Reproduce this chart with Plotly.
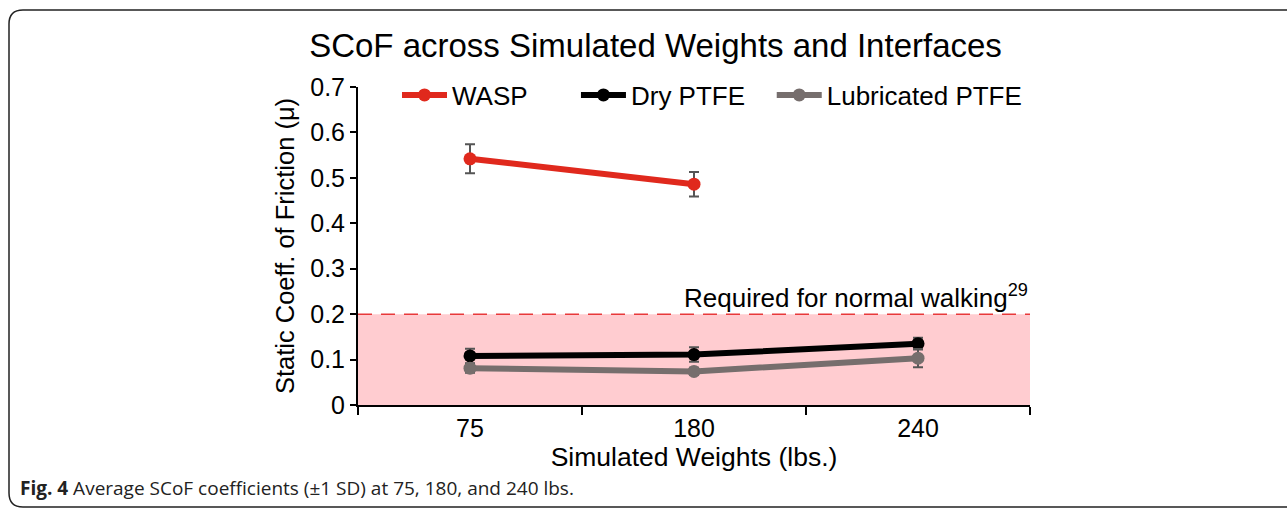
import plotly.graph_objects as go

weights = ["75", "180", "240"]
wasp_mean = [0.542, 0.486, None]
wasp_sd = [0.032, 0.027, None]
dry_mean = [0.108, 0.111, 0.135]
dry_sd = [0.016, 0.016, 0.013]
lub_mean = [0.081, 0.074, 0.103]
lub_sd = [0.010, 0.008, 0.020]
yticks = [0, 0.1, 0.2, 0.3, 0.4, 0.5, 0.6, 0.7]
threshold = 0.2

W, H = 1287, 509
L, R, T, B = 358, 1030, 87, 405
pw, ph = R - L, B - T

def px(x):
    return (x - L) / pw

def py(y):
    return (B - y) / ph

FONT = "Liberation Sans"
NB = "\u00a0"

fig = go.Figure()
series = [
    ("WASP" + NB * 6, wasp_mean, wasp_sd, "#e0291d"),
    ("Dry PTFE" + NB * 3, dry_mean, dry_sd, "#000000"),
    ("Lubricated PTFE", lub_mean, lub_sd, "#766e6d"),
]
for name, m, sd, col in series:
    fig.add_trace(go.Scatter(
        x=weights, y=m, name=name, mode="lines+markers",
        line=dict(color=col, width=6),
        marker=dict(color=col, size=13),
        error_y=dict(type="data", array=sd, color="#555555", thickness=2, width=5),
        connectgaps=False,
    ))

# shaded region below threshold
fig.add_shape(type="rect", xref="paper", yref="y", x0=0, x1=1, y0=0, y1=threshold,
              fillcolor="#ffccd0", line=dict(width=0), layer="below")
fig.add_shape(type="line", xref="paper", yref="y", x0=0, x1=1, y0=threshold, y1=threshold,
              line=dict(color="#e8393a", width=1.5, dash="14px,9px"), layer="above")

fig.add_annotation(xref="paper", yref="y", x=1, y=threshold, xanchor="right", yanchor="bottom",
                   text="Required for normal walking<sup>29</sup>", showarrow=False,
                   font=dict(size=26, color="#000", family=FONT), yshift=-1)

# rounded frame
x0, x1 = px(9), px(1300)
y0, y1 = py(10), py(507)
rx, ry = 14 / pw, 14 / ph
path = (f"M {x0+rx},{y0} L {x1},{y0} M {x0+rx},{y0} Q {x0},{y0} {x0},{y0-ry} "
        f"L {x0},{y1+ry} Q {x0},{y1} {x0+rx},{y1} L {x1},{y1}")
fig.add_shape(type="path", xref="paper", yref="paper", path=path,
              line=dict(color="#222222", width=1.5))

fig.add_annotation(xref="paper", yref="paper", x=px(18), y=py(488), xanchor="left", yanchor="middle",
                   text="<b>Fig. 4</b> Average SCoF coefficients (±1 SD) at 75, 180, and 240 lbs.",
                   showarrow=False, font=dict(size=19, color="#222", family="Open Sans"))

fig.update_layout(
    width=W, height=H,
    margin=dict(l=L, r=W - R, t=T, b=H - B),
    paper_bgcolor="white", plot_bgcolor="rgba(0,0,0,0)",
    font=dict(family=FONT, size=25, color="#000"),
    title=dict(text="SCoF across Simulated Weights and Interfaces", xref="container",
               x=655.5 / W, xanchor="center",
               y=1 - 45 / H, yanchor="middle", font=dict(size=33, family=FONT, color="#000")),
    legend=dict(orientation="h", x=px(397), y=py(95), xanchor="left", yanchor="middle",
                font=dict(size=26, family=FONT), bgcolor="rgba(0,0,0,0)",
                itemwidth=45),
    showlegend=True,
)
fig.update_xaxes(type="category", range=[-0.5, 2.5], tickson="boundaries",
                 showline=True, linecolor="#000", linewidth=2, ticks="outside", ticklen=8,
                 tickwidth=2, tickcolor="#000", showgrid=False, zeroline=False,
                 title=dict(text="Simulated Weights (lbs.)", standoff=0, font=dict(size=26.5)),
                 tickfont=dict(size=25))
fig.update_yaxes(range=[0, 0.7], tickvals=yticks, showline=True, linecolor="#000", linewidth=2,
                 ticks="outside", ticklen=6, tickwidth=2, tickcolor="#000", showgrid=False,
                 zeroline=False, title=dict(text="Static Coeff. of Friction (μ)", standoff=8,
                                            font=dict(size=25.5)),
                 tickfont=dict(size=25))

fig.write_html("out.html")
